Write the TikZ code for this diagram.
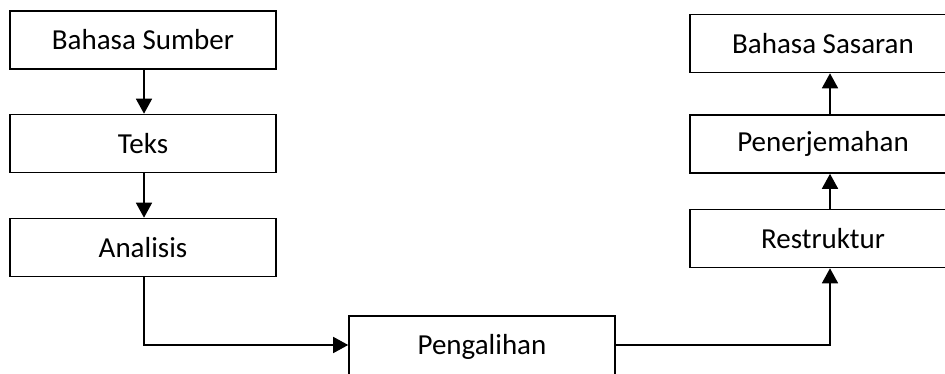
\documentclass[tikz,border=0pt]{standalone}
\usepackage{fontspec}
\setmainfont{Carlito}
\usetikzlibrary{arrows.meta,positioning}
\begin{document}
\begin{tikzpicture}[x=1pt,y=1pt,
  box/.style={draw=black,line width=1.6pt,minimum width=266pt,minimum height=58pt,inner sep=0pt,font=\fontsize{29}{34}\selectfont},
  conn/.style={line width=1.6pt,-{Triangle[length=15pt,width=16pt]}},
  plain/.style={line width=1.6pt}]
\useasboundingbox (0,0) rectangle (945,-374);
\clip (0,0) rectangle (945,-374);
\node[box] (bsum) at (143,-40) {Bahasa Sumber};
\node[box] (teks) at (143,-143.5) {Teks};
\node[box] (anal) at (143,-247.5) {Analisis};
\node[box,minimum height=62pt] (peng) at (482,-347) {Pengalihan};
\node[box] (bsas) at (823,-43.5) {Bahasa Sasaran};
\node[box] (pene) at (823,-144) {Penerjemahan};
\node[box] (rest) at (823,-238.5) {Restruktur};
\coordinate (pw) at ([yshift=2pt]peng.west);
\coordinate (pe) at ([yshift=2pt]peng.east);
\coordinate (c1) at ([xshift=1pt]anal.south |- pw);
\coordinate (c2) at ([xshift=7pt]rest.south |- pe);
\draw[conn] ([xshift=1pt]bsum.south) -- ([xshift=1pt]teks.north);
\draw[conn] ([xshift=1pt]teks.south) -- ([xshift=1pt]anal.north);
\draw[conn] ([xshift=1pt]anal.south) -- (c1) -- (pw);
\draw[conn] (pe) -- (c2) -- ([xshift=7pt]rest.south);
\draw[conn] ([xshift=7pt]rest.north) -- ([xshift=7pt]pene.south);
\draw[conn] ([xshift=7pt]pene.north) -- ([xshift=7pt]bsas.south);
\end{tikzpicture}
\end{document}
